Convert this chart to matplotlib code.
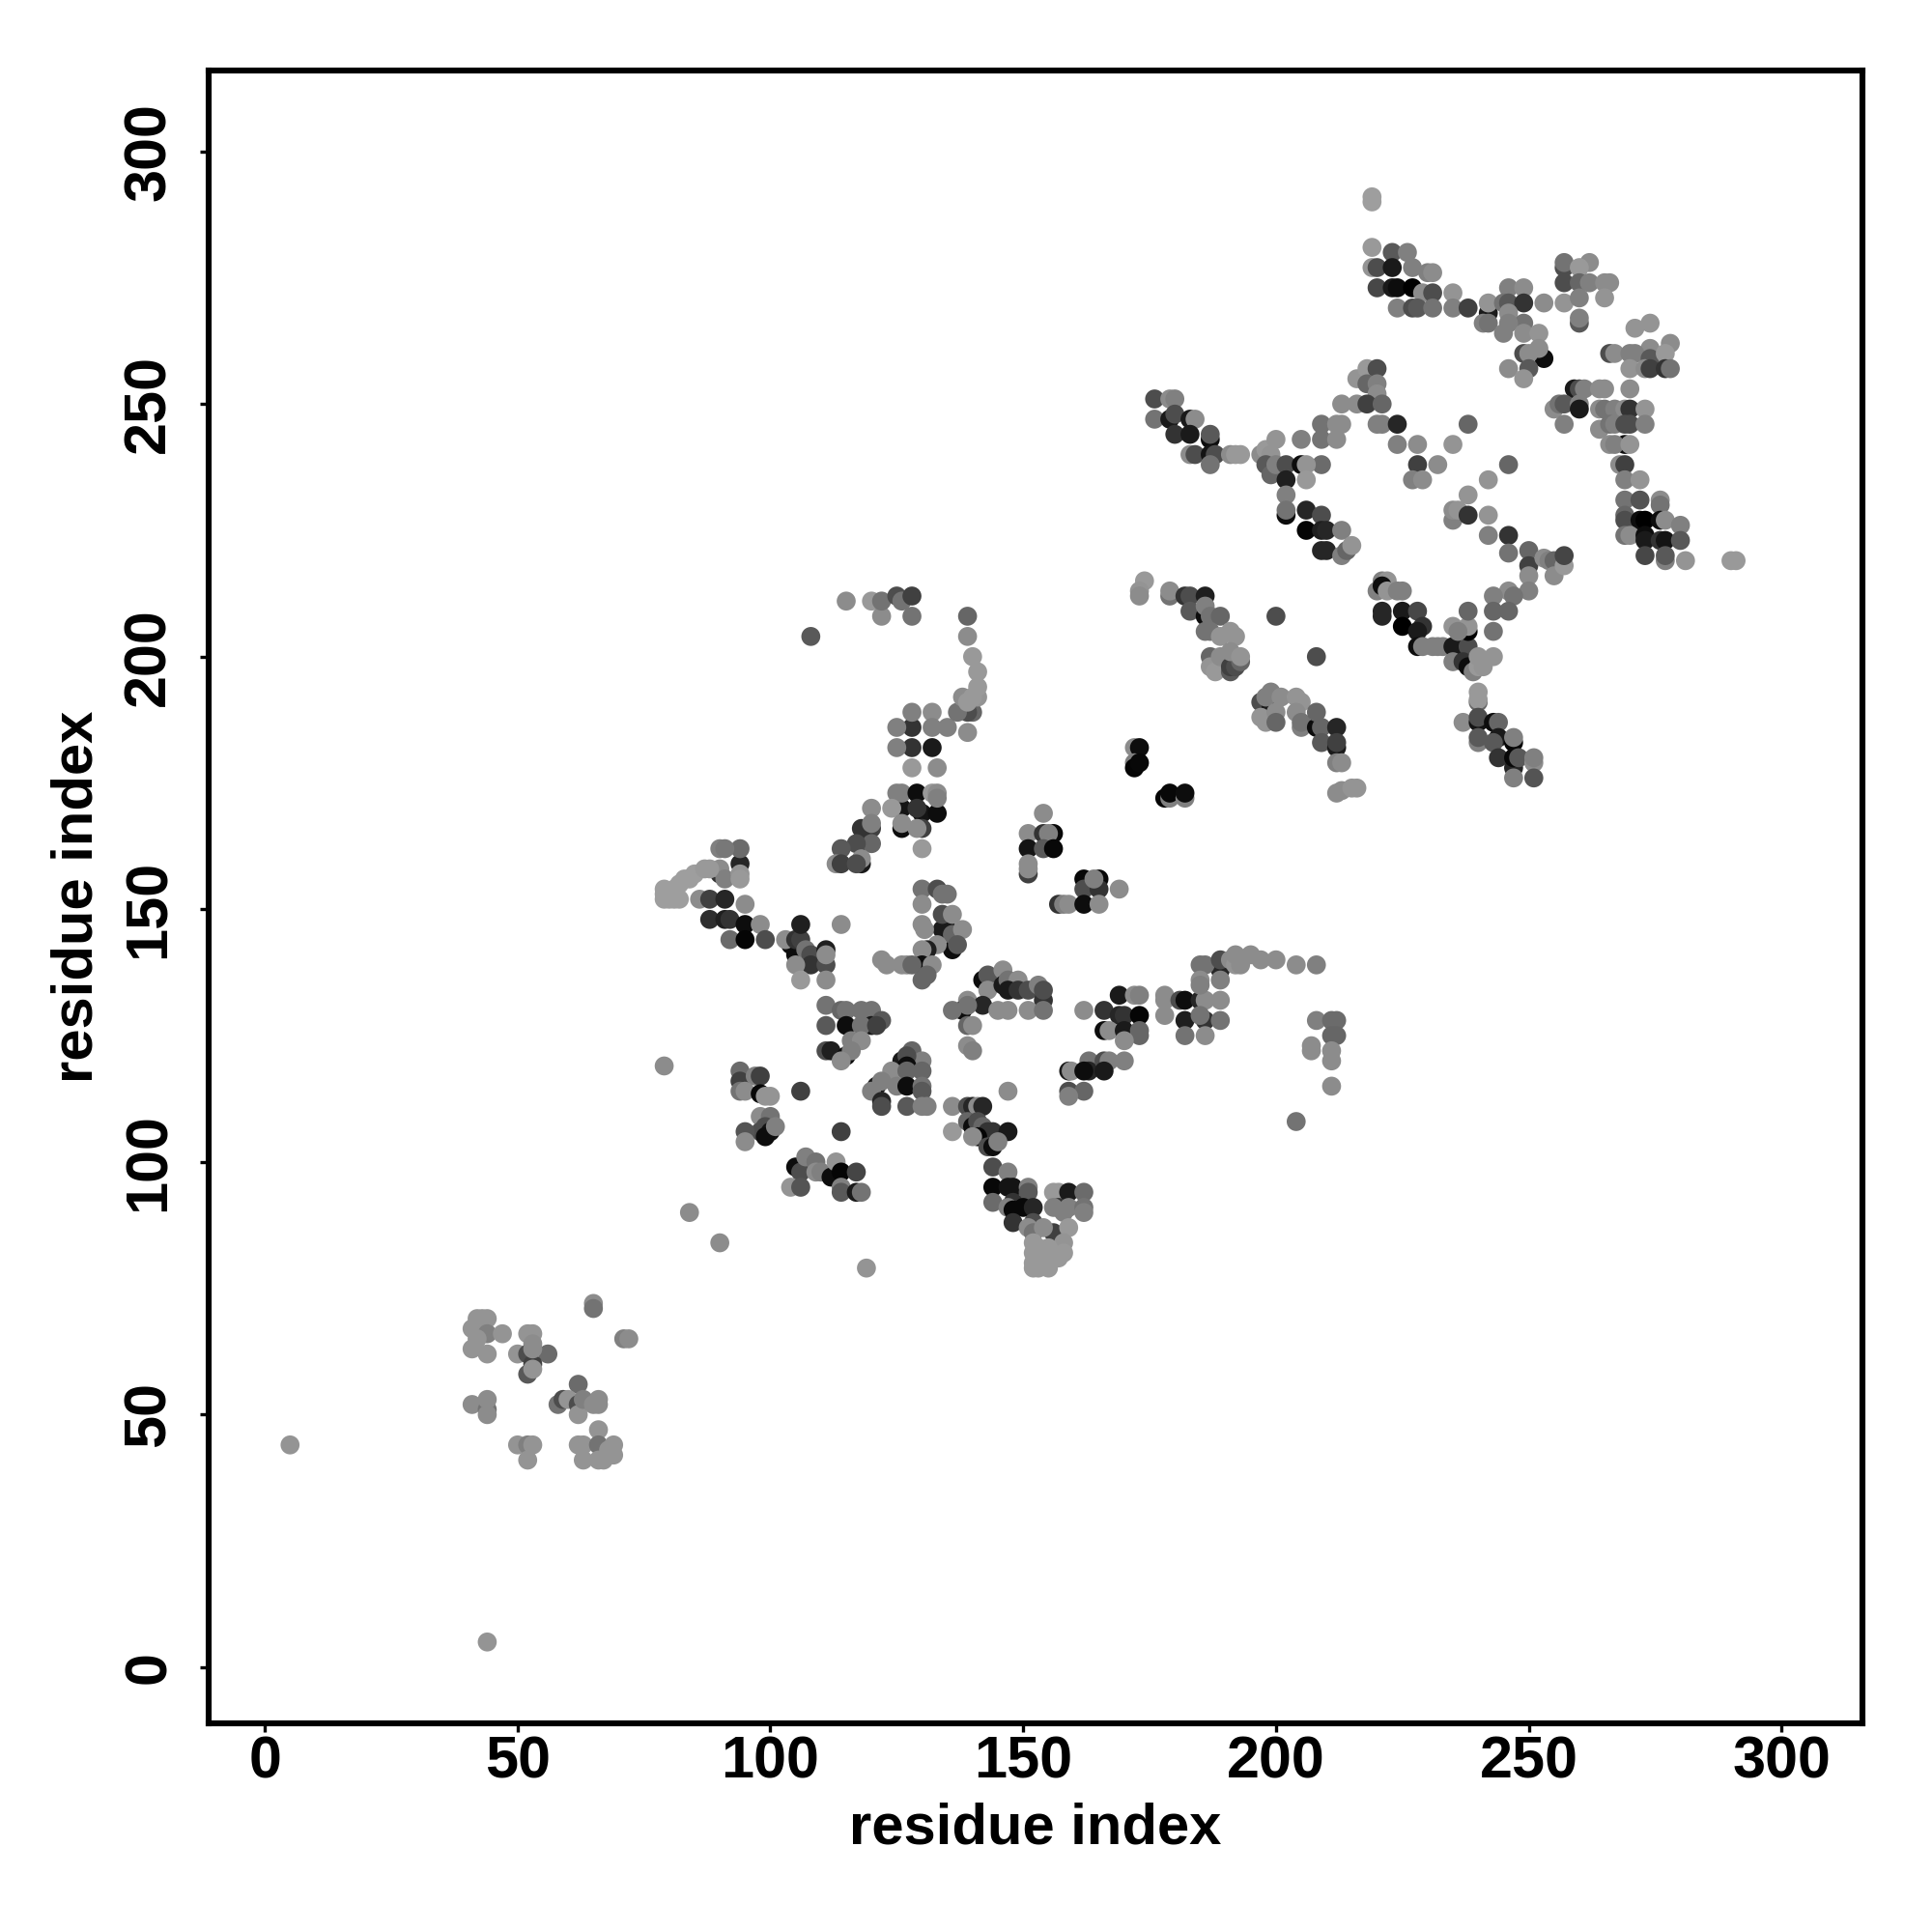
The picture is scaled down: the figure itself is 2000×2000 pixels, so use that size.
import matplotlib
matplotlib.use("Agg")
import matplotlib.pyplot as plt

plt.rcParams['font.family'] = ['Liberation Sans', 'DejaVu Sans']
plt.rcParams['font.weight'] = 'bold'

tick_values = [0, 50, 100, 150, 200, 250, 300]
axis_label = "residue index"

# each entry: residue i, residue j, grey level
outliers = [(5,44,.58),(44,5,.58),(79,119,.55),(84,90,.55),(90,84,.55),(119,79,.58),(106,114,.25),(114,106,.25),
 (114,147,.55),(147,114,.55),(108,204,.35),(204,108,.45),(200,208,.3),(208,200,.3),(169,154,.55),(154,169,.55)]

low_left = [(65,72,.55),(65,71,.45),(71,65,.5),(72,65,.55),(42,69,.58),(43,69,.58),(44,69,.58),(41,67,.58),(42,67,.58),
 (44,66,.5),(47,66,.58),(41,63,.58),(44,62,.58),(42,65,.58),(52,66,.58),(53,66,.58),(53,64,.55),(50,62,.58),(52,62,.3),
 (56,62,.42),(52,58,.35),(53,60,.25),(53,63,.55),(53,59,.58),(62,56,.42),(41,52,.55),(44,51,.45),(44,53,.55),(44,50,.55),
 (58,52,.45),(59,53,.3),(60,53,.58),(62,52,.3),(62,50,.58),(63,53,.5),(66,53,.55),(66,52,.55),(65,52,.55),(66,47,.58),
 (50,44,.58),(52,44,.5),(53,44,.58),(52,41,.58),(62,44,.58),(63,44,.58),(63,41,.58),(66,44,.45),(66,41,.58),(67,41,.58),
 (69,44,.58),(69,42,.58),(68,43,.58)]

band_150 = [(94,159,.15),(90,157,.2),(94,162,.42),(90,162,.5),(91,162,.47),(90,158,.55),(91,156,.5),(94,157,.58),(94,156,.6),
 (79,152,.62),(79,153,.62),(79,154,.62),(80,152,.62),(81,152,.62),(80,153,.62),(81,154,.62),(82,152,.62),(82,155,.62),
 (83,156,.62),(84,156,.62),(85,157,.62),(87,158,.6),(88,158,.6),(86,152,.55),(88,152,.25),(91,152,.15),(95,151,.55),
 (88,148,.18),(91,148,.12),(92,148,.2),(95,147,.05),(98,147,.55),(92,144,.42),(95,144,.02),(99,144,.3)]

band_140 = [(104,143,.05),(105,141,.05),(103,144,.55),(105,144,.2),(106,144,.25),(106,147,.12),(107,142,.45),(108,141,.3),
 (108,139,.2),(111,142,.12),(111,139,.3),(111,141,.55),(105,139,.55),(106,136,.6),(111,136,.55)]

band_165 = [(118,163,.05),(118,159,.1),(120,166,.25),(118,166,.2),(120,170,.55),(120,167,.5),(120,163,.4),(117,163,.3),
 (114,162,.35),(113,159,.55),(114,159,.25),(118,160,.55),(117,159,.3)]

group_170 = [(126,170,.08),(130,169,.08),(133,169,.05),(125,173,.5),(126,173,.5),(129,173,.05),(132,173,.6),(133,173,.55),
 (133,172,.5),(124,170,.6),(129,170,.2),(126,166,.05),(126,167,.55),(130,166,.25),(129,166,.55),(130,162,.6)]

group_185 = [(128,182,.2),(132,182,.1),(128,186,.2),(125,186,.5),(125,182,.5),(128,189,.5),(132,189,.55),(128,178,.6),
 (133,178,.55),(132,186,.5),(135,186,.5),(140,189,.4),(139,189,.3),(137,189,.45),(139,185,.55),(138,192,.55),(141,192,.58),
 (141,194,.6),(140,192,.6),(139,191,.6),(141,197,.6),(140,200,.6),(139,204,.55),(139,208,.4)]

top_210 = [(115,211,.55),(120,211,.6),(122,208,.55),(122,211,.45),(125,212,.3),(126,211,.45),(128,212,.25),(128,208,.45)]

group_160 = [(151,165,.55),(154,165,.2),(156,165,.03),(155,165,.5),(151,162,.08),(154,162,.35),(156,162,.03),(151,157,.25),
 (151,159,.55),(151,158,.55),(162,156,.03),(165,156,.03),(162,154,.3),(165,154,.2),(164,156,.5),(157,151,.2),(158,151,.5),
 (159,151,.55),(162,151,.05),(165,151,.55)]

group_145 = [(134,146,.1),(135,146,.1),(136,142,.05),(130,154,.45),(133,154,.3),(134,153,.45),(135,153,.45),(130,151,.55),
 (134,149,.3),(136,149,.55),(130,147,.55),(130.5,146,.55),(136,145,.4),(138,146,.55),(137,143,.35),(133,143,.55),(131,142,.12),
 (130,142,.55),(130,139,.05),(132,139,.55),(127,139,.55),(126,139,.55),(128,139,.4),(131,137,.4),(130,136,.4),(122,140,.55),(123,139,.55)]

group_133 = [(142,136,.05),(143,137,.35),(146,138,.55),(143,134,.55),(146,135,.1),(147,136,.45),(149,136,.55),(147,134,.1),
 (149,134,.2),(151,134,.3),(153,135,.5),(154,132,.2),(154,134,.3),(139,132,.55),(138,130,.05),(142,131,.15),(136,130,.45),
 (139,131,.45),(145,130,.55),(147,130,.55),(151,130,.55),(154,130,.45),(139,127,.4),(140,127,.55),(139,123,.55),(140,122,.5)]

group_130 = [(162,130,.55),(169,133,.1),(172,133,.55),(173,133,.5),(166,130,.2),(169,129,.15),(170,129,.2),(173,129,.02),
 (166,126,.05),(167,126,.55),(170,126,.1),(173,126,.4),(173,125,.4),(170,124,.55),(178,133,.55),(178,132,.55),(178,129,.55),
 (181,132,.3),(182,132,.05),(182,128,.12),(185,132,.15),(186,132,.55),(186,128,.2),(185,129,.45),(189,132,.55),(189,128,.45),
 (182,125,.45),(186,125,.55)]

arc_140 = [(189,138,.15),(185,139,.45),(186,139,.45),(185,136,.55),(185,135,.5),(189,140,.3),(189,136,.5),(191,140,.55),
 (192,139,.58),(192,141,.55),(193,139,.55),(195,141,.55),(197,140,.55),(200,140,.55),(204,139,.55),(208,139,.5)]

group_210 = [(208,128,.5),(211,128,.42),(212,128,.42),(211,125,.4),(212,125,.4),(211,122,.55),(207,123,.55),(207,122,.55),
 (211,120,.55),(211,115,.55)]

group_118 = [(159,118,.1),(159,114,.3),(159.5,118,.55),(162,114,.4),(159,113,.5),(163,120,.45),(163,118,.15),(162,118,.05),
 (166,120,.3),(167,120,.5),(170,120,.5),(166,118,.1)]

group_125 = [(111,131,.45),(114,130,.4),(115,130,.45),(118,130,.45),(120,130,.45),(111,127,.35),(115,127,.05),(120,127,.1),
 (122,128,.35),(118,127,.45),(121,127,.25),(116,124,.5),(118,124,.55),(111,122,.3),(112,122,.12),(115,121,.05),(116,122,.5),(114,120,.55)]

triangle_115 = [(128,122,.4),(130,120,.5),(126,120,.1),(127,121,.3),(127,119,.05),(130,118,.4),(124,118,.55),(127,118,.4),
 (121,115,.1),(122,116,.5),(125,115,.5),(127,115,.05),(130,115,.45),(130,114,.35),(120,114,.5),(122,112,.15),(122,111,.3),
 (127,111,.35),(130,111,.5),(131,111,.5),(136,111,.55),(136,106,.6)]

group_107 = [(139,111,.3),(140,111,.15),(141,111,.55),(142,111,.15),(139,108,.4),(140,107,.05),(141,108,.3),(142,107,.4),
 (143,106,.2),(144,106,.2),(147,106,.1),(141,105,.02),(140,105,.55),(143,103,.3),(144,103,.05),(145,104,.5)]

group_92 = [(144,99,.3),(147,98,.5),(144,95,.03),(147,95,.08),(148,95,.08),(151,95,.5),(151,94,.35),(144,92,.42),(148,92,.2),
 (147,91,.5),(148,90.5,.03),(150,91,.03),(152,91,.15),(148,88,.2),(152,88,.3),(151,87,.55),(152,86,.45)]

vee_85 = [(156,94,.6),(157,94,.6),(159,94,.1),(162,94,.42),(157,91,.2),(156,91,.5),(159,91,.5),(162,91,.45),(162,90,.5),(158,90,.5),
 (156,86,.25),(159,87,.6),(158,84,.58),(157,81,.6),(158,82,.6),(154,87,.55),(152,84,.6),(152,82,.6),(152,80,.6),(152,79,.6),
 (153,79,.6),(154,81,.6),(153,83,.6),(155,79,.6),(155,83,.6),(156,81,.6)]

group_110 = [(94,118,.42),(94,116,.25),(97,117,.5),(98,117,.25),(94,114,.45),(95,114,.55),(98,113.5,.03),(99,113,.58),(100,113,.58),
 (98,109,.55),(100,109,.45),(99,107,.3),(98,106,.3),(100,106,.08),(99,105,.05),(101,107,.5),(95,106,.33),(95,104,.55)]

group_97 = [(105,99,.05),(106,98,.3),(107,101,.5),(109,100,.45),(109,98,.55),(110,98,.5),(112,97,.05),(113,100,.58),(114,98,.02),
 (117,98,.27),(104,95,.58),(106,95,.33),(114,95,.5),(114,94,.35),(117,94,.1),(118,94,.45)]

top_275 = [(219,291,.62),(219,290,.62),(219,281,.6),(223,280,.35),(226,280,.5),(219,277,.58),(220,277,.3),(223,277,.1),(227,277,.5),
 (230,276,.5),(231,276,.55),(220,273,.28),(223,273,.1),(224,273,.05),(227,273,.0),(229,272,.55),(231,272,.3),(224,269,.5),
 (227,269,.3),(228,269,.35),(231,269,.45),(235,272,.58),(235,269,.5),(238,269,.25)]

top_268 = [(242,268,.1),(242,270,.58),(241,266,.5),(242,266,.45),(246,273,.5),(249,273,.55),(245,270,.45),(246,270,.35),(249,270,.2),
 (246,268,.55),(249,266,.45),(245,264,.5),(246,266,.5),(249,264,.55),(253,270,.55),(252,264,.58),(253,259,.05),(249,260,.3),
 (250,260,.55),(252,261,.55),(246,257,.55),(250,257,.35),(249,255,.58)]

top_274 = [(257,277,.3),(257,278,.45),(262,278,.55),(260,277,.6),(257,274,.3),(260,274,.4),(262,274,.5),(265,274,.55),(266,274,.55),
 (257,270,.58),(260,271,.5),(265,271,.58),(260,266,.35),(260,267,.5)]

right_258 = [(271,265,.58),(274,266,.58),(274,261,.55),(278,262,.55),(266,260,.3),(267,260,.55),(270,260,.5),(271,260,.5),(274,259,.35),
 (277,260,.6),(270,257,.58),(273,257,.55),(274,257,.25),(277,257,.2),(278,257,.45)]

right_248 = [(259,253,.1),(260,253,.3),(261,253,.5),(264,253,.55),(265,253,.55),(270,253,.55),(255,249,.55),(256,250,.45),(257,250,.35),
 (260,250,.5),(260,249,.1),(257,246,.5),(264,249,.55),(265,249,.45),(267,249,.5),(269,249,.55),(270,249,.2),(273,249,.58),(264,245,.55),
 (266,246,.45),(267,246,.5),(269,246,.3),(270,246,.3),(273,246,.5),(269,242,.05),(266,242,.55),(267,242,.5),(270,242,.58),(268,238,.55),
 (269,238,.25),(269,235,.5),(272,235,.58)]

right_225 = [(269,231,.45),(272,231,.33),(276,231,.55),(276,230,.45),(269,228,.4),(269,227,.3),(272,227,.05),(273,227,.0),(276,227,.05),
 (277,227,.55),(280,226,.5),(269,224,.45),(270,224,.55),(273,224,.05),(273,223,.1),(276,223,.2),(277,223,.08),(280,223,.35),(273,220,.28),
 (277,219,.5),(277,220,.35),(281,219,.58),(290,219,.6),(291,219,.6)]

mid_220 = [(246,224,.2),(246,220.5,.45),(250,221,.4),(250,218,.25),(250,216,.55),(253,219.5,.55),(254,219,.5),(255,219,.4),(255,216,.55),
 (257,218,.6),(257,220,.27),(250,213,.5),(246,213,.55),(247,212,.45),(243,212,.5),(243,209,.4),(246,209,.4),(243,205,.45)]

band_245 = [(176,251,.3),(179,251,.55),(180,251,.5),(176,247,.45),(179,247,.1),(180,248,.3),(183,247,.1),(184,247,.55),(180,244,.2),
 (183,244,.1),(187,243,.05),(187,244,.35),(183,240,.55),(184,240,.3),(187,240,.08),(188,240,.3),(187,238,.45),(191,240,.55),(192,240,.6),(193,240,.6)]

group_238 = [(197,240,.55),(198,241,.6),(199,240,.58),(200,243,.58),(198,238,.35),(199,236,.4),(200,238,.5),(202,238,.3),(202,235,.12),
 (202,232,.5),(202,228,.05),(202,229,.45),(205,243,.5),(209,243,.45),(209,246,.45),(212,243,.55),(213,250,.55),(213,246,.55),(212,246,.55),
 (209,238,.42),(205,238,.05),(206,238,.58),(206,235,.6)]

group_252 = [(216,255,.58),(218,257,.6),(220,257,.3),(218,254,.4),(220,254,.5),(220,252,.55),(216,250,.55),(218,250,.25),(221,250,.4),
 (220,246,.5),(221,246,.5),(224,246,.15),(224,242,.5),(228,242,.55),(235,242,.58),(238,246,.4)]

scatter_235 = [(228,238,.25),(232,238,.55),(227,235,.5),(229,235,.55),(242,235,.58),(246,238,.4),(238,232,.58),(235,227,.5),(235,229,.55),
 (236,229,.58),(238,228,.2),(242,228,.58),(242,224,.5)]

band_225 = [(206,225,.02),(206,229,.15),(209,228,.3),(209,225,.12),(210,225,.15),(213,225,.5),(209,221,.15),(210,221,.15),(213,220,.5),
 (214,221,.4),(215,222,.58)]

band_205 = [(174,215,.6),(173,213,.58),(173,212,.55),(179,212,.45),(179,213,.55),(182,212,.2),(183,212,.3),(186,212,.12),(183,209,.35),
 (186,208,.05),(186,210,.5),(187,208,.45),(189,208,.4),(186,205,.45),(187,205,.45),(189,204,.58),(191,205,.58),(192,204,.58),
 (187,200,.4),(187,198,.58),(188,197,.6),(189,200,.55),(191,197,.35),(191,198,.25),(192,198,.3),(193,199,.4),(191,201,.55),(193,200,.58)]

band_188 = [(197,191,.3),(199,190,.1),(198,192,.5),(199,193,.5),(201,192,.55),(197,188,.58),(198,187,.58),(200,189,.55),(200,187,.4),
 (204,192,.58),(205,191,.58),(204,189,.55),(205,186,.5),(205,187,.45),(208,186,.05),(208,189,.4),(209,186,.4),(212,186,.15),(209,183,.35),
 (212,182,.1),(212,183,.25),(212,179,.5),(213,179,.55),(212,173,.55),(213,173.5,.55),(215,174,.58),(216,174,.58)]

pair_175 = [(172,182,.55),(173,182,.05),(172,179,.5),(172,178,.02),(173,179,.03),(178,172,.02),(179,172,.5),(179,173,.03),(182,172,.5),(182,173,.05)]

band_208 = [(221,215,.5),(222,215,.58),(220,213,.5),(221,214,.05),(222,213,.58),(224,213,.5),(225,213,.5),(221,208,.15),(221,209,.15),
 (225,209,.1),(228,209,.28),(225,206,.0),(229,206,.2),(228,205,.1),(228,202,.05),(229,202,.5),(231,202,.5),(232,202,.5),(233,202,.5),
 (235,202,.1),(236,202,.1),(238,202,.3),(238,205,.0),(238,206,.58),(238,209,.4),(235,206,.58),(236,205,.5),(235,199,.5),(237,199,.2),
 (238,198,.05),(239,197,.5),(240,198,.6),(241,198,.58),(240,200,.58),(243,200,.58)]

band_183 = [(240,193,.6),(240,191,.4),(240,191.5,.6),(237,187,.55),(240,187,.08),(240,188,.3),(243,187,.05),(244,187,.4),(240,183,.5),
 (240,184,.35),(244,184,.1),(243,183,.35),(247,183,.02),(247,184,.5),(244,180,.2),(247,178,.15),(247,180,.03),(248,180,.35),(251,179,.55),
 (251,180,.5),(247,176,.5),(251,176,.33)]

clusters = [outliers, low_left, band_150, band_140, band_165, group_170, group_185, top_210, group_160, group_145, group_133,
            group_130, arc_140, group_210, group_118, group_125, triangle_115, group_107, group_92, vee_85, group_110, group_97,
            top_275, top_268, top_274, right_258, right_248, right_225, mid_220, band_245, group_238, group_252, scatter_235,
            band_225, band_205, band_188, pair_175, band_208, band_183]

fig = plt.figure(figsize=(10, 10), dpi=200, facecolor='white')
ax = fig.add_axes([216/2000, 1 - 1784/2000, (1928 - 216)/2000, (1784 - 73)/2000])

for cluster in clusters:
    xs, ys, greys = zip(*cluster)
    ax.scatter(xs, ys, s=50, c=[str(g) for g in greys], linewidths=0, zorder=3)

ax.set_xlim(-11.1, 316)
ax.set_ylim(-11.1, 316)
ax.set_xticks(tick_values)
ax.set_yticks(tick_values)
ax.tick_params(length=3.1, width=1.2, labelsize=22, pad=1.5)
ax.tick_params(axis='y', pad=8.5)
for label in ax.get_yticklabels():
    label.set_rotation(90)
    label.set_va('center')
for side in ax.spines.values():
    side.set_linewidth(2.2)

ax.set_xlabel(axis_label, fontsize=21.5, fontweight='bold')
ax.set_ylabel(axis_label, fontsize=21.5, fontweight='bold')
ax.xaxis.set_label_coords(0.5, -(1893 - 1784)/1711, transform=ax.transAxes)
ax.yaxis.set_label_coords(-(216 - 80)/1712, 0.5, transform=ax.transAxes)
ax.xaxis.label.set_va('center')
ax.yaxis.label.set_va('center')

fig.savefig('out.png', dpi=200, facecolor='white')
